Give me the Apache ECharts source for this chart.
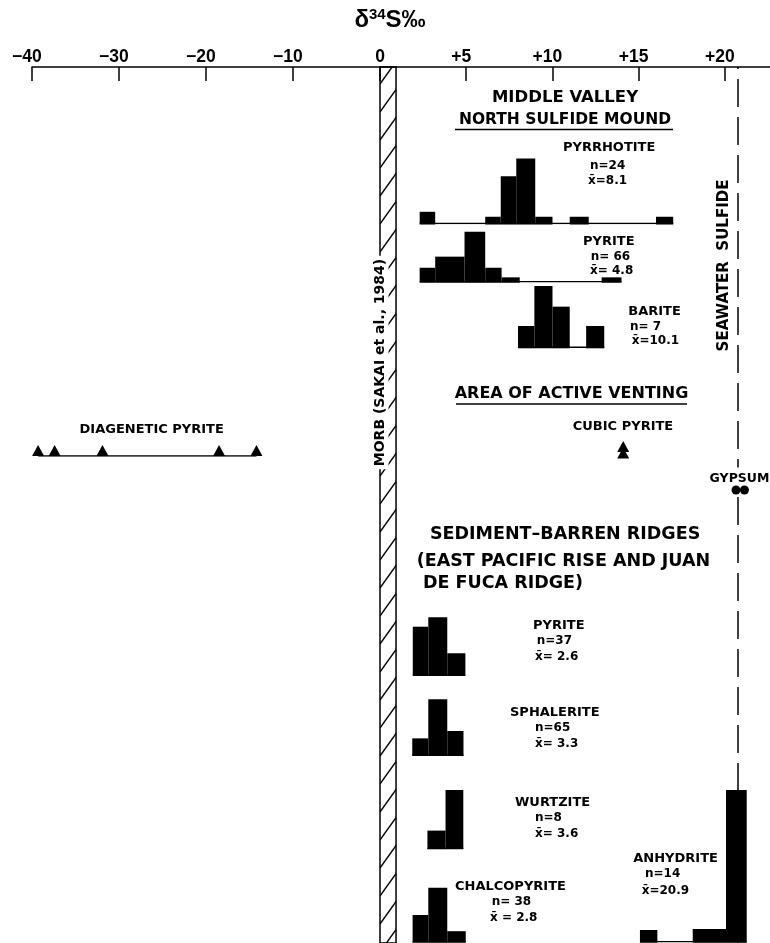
<!DOCTYPE html>
<html><head><meta charset="utf-8">
<script src="https://cdn.jsdelivr.net/npm/echarts@6/dist/echarts.min.js"></script>
<style>html,body{margin:0;padding:0;background:#fff}#c{width:770px;height:943px}</style>
</head><body><div id="c"></div>
<script>
// ================= DATA =================
const tickLabelsNeg = [-40, -30, -20, -10, 0];
const tickLabelsPos = [5, 10, 15, 20];
const ticksPos = [0, 5, 10, 15, 20];

const morbRange = [0, 0.93];          // MORB (Sakai et al., 1984)
const seawaterSulfide = 20.74;         // seawater sulfide value
const diageneticPyrite = [-39.3, -37.4, -31.9, -18.5, -14.2];
const cubicPyrite = [14.1, 14.1];
const gypsum = [20.64, 21.13];

// Histogram bins [from, to] (δ34S ‰) and relative frequencies
const mvPyrrhotiteBins = [[2.3,3.2],[6.1,7.0],[7.0,7.9],[7.9,9.0],[9.0,10.0],[11.0,12.1],[16.0,17.0]];
const mvPyrrhotiteFreq = [7.8, 4.5, 31.5, 43.3, 4.5, 4.5, 4.5];
const mvPyriteBins = [[2.3,3.2],[3.2,4.9],[4.9,6.1],[6.1,7.05],[7.05,8.1],[12.85,14.0]];
const mvPyriteFreq = [9.3, 16.7, 33.3, 9.3, 2.9, 2.9];
const mvBariteBins = [[8.0,8.95],[8.95,10.0],[10.0,11.0],[11.95,13.0]];
const mvBariteFreq = [14.2, 40.9, 27.1, 14.2];
const sbPyriteBins = [[1.9,2.8],[2.8,3.9],[3.9,4.95]];
const sbPyriteFreq = [32.2, 38.5, 14.5];
const sbSphaleriteBins = [[1.87,2.8],[2.8,3.9],[3.9,4.84]];
const sbSphaleriteFreq = [11.1, 37.1, 16.0];
const sbWurtziteBins = [[2.75,3.8],[3.8,4.83]];
const sbWurtziteFreq = [11.8, 38.9];
const sbChalcopyriteBins = [[1.89,2.8],[2.8,3.9],[3.9,4.97]];
const sbChalcopyriteFreq = [17.8, 36.0, 7.0];
const sbAnhydriteBins = [[15.07,16.08],[18.13,20.06],[20.06,21.26]];
const sbAnhydriteFreq = [7.8, 8.5, 101.1];

// ================= LAYOUT =================
const X_MAX = 22.61;
const PX_PER_UNIT = 1.5, Y_MAX = 110, HH = Y_MAX * PX_PER_UNIT;
const AXIS_Y = 67;
const histLayout = [
  {bins: mvPyrrhotiteBins, freq: mvPyrrhotiteFreq, base: 223.5},
  {bins: mvPyriteBins, freq: mvPyriteFreq, base: 281.7},
  {bins: mvBariteBins, freq: mvBariteFreq, base: 347.3},
  {bins: sbPyriteBins, freq: sbPyriteFreq, base: 675},
  {bins: sbSphaleriteBins, freq: sbSphaleriteFreq, base: 755},
  {bins: sbWurtziteBins, freq: sbWurtziteFreq, base: 848.3},
  {bins: sbChalcopyriteBins, freq: sbChalcopyriteFreq, base: 941.7},
  {bins: sbAnhydriteBins, freq: sbAnhydriteFreq, base: 941.7}
];

const SANS = '"DejaVu Sans"';
const texts = [
  ['MIDDLE VALLEY', 565, 97.5, 16.5, 'center'],
  ['NORTH SULFIDE MOUND', 565, 120, 15.5, 'center'],
  ['PYRRHOTITE', 563, 148, 13, 'left'],
  ['n=24', 590, 166, 12, 'left'],
  ['x\u0304=8.1', 588, 181, 12, 'left'],
  ['PYRITE', 583, 242, 13, 'left'],
  ['n= 66', 590.7, 257, 12, 'left'],
  ['x\u0304= 4.8', 590, 270.5, 12, 'left'],
  ['BARITE', 628.3, 311.7, 13, 'left'],
  ['n= 7', 630, 327, 12, 'left'],
  ['x\u0304=10.1', 631.7, 341, 12, 'left'],
  ['AREA OF ACTIVE VENTING', 571.5, 394, 16, 'center'],
  ['CUBIC PYRITE', 623, 427, 13, 'center'],
  ['DIAGENETIC PYRITE', 151.7, 430, 13, 'center'],
  ['SEDIMENT\u2013BARREN RIDGES', 430, 534, 17.5, 'left'],
  ['(EAST PACIFIC RISE AND JUAN', 416.7, 561.5, 17.5, 'left'],
  ['DE FUCA RIDGE)', 423, 583, 17.5, 'left'],
  ['PYRITE', 533, 625.7, 13, 'left'],
  ['n=37', 536.7, 641, 12, 'left'],
  ['x\u0304= 2.6', 535, 656.7, 12, 'left'],
  ['SPHALERITE', 510, 712.8, 13, 'left'],
  ['n=65', 535, 727.5, 12, 'left'],
  ['x\u0304= 3.3', 535, 744, 12, 'left'],
  ['WURTZITE', 515, 803, 13, 'left'],
  ['n=8', 535, 817.5, 12, 'left'],
  ['x\u0304= 3.6', 535, 834, 12, 'left'],
  ['ANHYDRITE', 633.3, 858.7, 13, 'left'],
  ['n=14', 645, 874, 12, 'left'],
  ['x\u0304=20.9', 641.7, 890.5, 12, 'left'],
  ['CHALCOPYRITE', 455, 887, 13, 'left'],
  ['n= 38', 491.7, 902, 12, 'left'],
  ['x\u0304 = 2.8', 490, 918, 12, 'left']
];

// hatch pattern for MORB band
const pat = document.createElement('canvas');
pat.width = 20; pat.height = 28;
const pg = pat.getContext('2d');
pg.strokeStyle = '#000'; pg.lineWidth = 1.4;
pg.beginPath(); pg.moveTo(-20, 56); pg.lineTo(40, -28); pg.stroke();

const chart = echarts.init(document.getElementById('c'), null, {renderer: 'canvas'});

const grids = [], xAxes = [], yAxes = [], series = [];
const hiddenX = (gi) => ({gridIndex: gi, type: 'value', min: 0, max: X_MAX, show: false});
const hiddenY = (gi, max) => ({gridIndex: gi, type: 'value', min: 0, max: max, show: false});

const labelFont = {fontFamily: '"Liberation Sans"', fontWeight: 'bold', fontSize: 17.5, color: '#000',
  rich: {h: {fontFamily: '"Liberation Sans"', fontWeight: 'bold', fontSize: 17.5, color: 'rgba(0,0,0,0)'}}};

// grid 0: left (negative) panel
grids.push({left: 32, top: AXIS_Y, width: 348, height: 456 - AXIS_Y});
xAxes.push({gridIndex: 0, type: 'value', position: 'top', min: -40, max: 0,
  axisLine: {show: true, onZero: false, lineStyle: {color: '#000', width: 1.5}},
  axisTick: {show: true, inside: true, length: 14, lineStyle: {color: '#000', width: 1.5}, customValues: tickLabelsNeg},
  axisLabel: Object.assign({show: true, margin: 1, customValues: tickLabelsNeg,
    formatter: v => v < 0 ? '\u2212' + (-v) + '{h|\u2212}' : String(v)}, labelFont),
  splitLine: {show: false}});
yAxes.push(hiddenY(0, 1));

// grid 1: right (positive) panel
grids.push({left: 380, top: AXIS_Y, width: 390, height: 943 - AXIS_Y});
xAxes.push({gridIndex: 1, type: 'value', position: 'top', min: 0, max: X_MAX,
  axisLine: {show: true, onZero: false, lineStyle: {color: '#000', width: 1.5}},
  axisTick: {show: true, inside: true, length: 14, lineStyle: {color: '#000', width: 1.5}, customValues: ticksPos},
  axisLabel: Object.assign({show: true, margin: 1, customValues: tickLabelsPos,
    formatter: v => '+' + v + '{h|+}'}, labelFont),
  splitLine: {show: false}});
yAxes.push(hiddenY(1, 1));

// diagenetic pyrite
series.push({type: 'line', xAxisIndex: 0, yAxisIndex: 0, silent: true, symbol: 'none',
  lineStyle: {color: '#000', width: 1.5},
  data: [[Math.min(...diageneticPyrite), 0], [Math.max(...diageneticPyrite), 0]]});
series.push({type: 'scatter', xAxisIndex: 0, yAxisIndex: 0, silent: true, symbol: 'triangle',
  symbolSize: [12, 11], symbolOffset: [0, -5.5], itemStyle: {color: '#000', opacity: 1},
  data: diageneticPyrite.map(v => [v, 0])});

// MORB band + seawater sulfide line
series.push({type: 'line', xAxisIndex: 1, yAxisIndex: 1, silent: true, data: [], z: 1,
  markArea: {silent: true, label: {show: false},
    itemStyle: {color: {image: pat, repeat: 'repeat'}, borderColor: '#000', borderWidth: 1.5},
    data: [[{xAxis: morbRange[0]}, {xAxis: morbRange[1]}]]},
  markLine: {silent: true, symbol: 'none', label: {show: false},
    lineStyle: {color: '#000', width: 1.5, type: [28, 10]},
    data: [{xAxis: seawaterSulfide}]}
});

// histograms
histLayout.forEach((h, i) => {
  const gi = grids.length;
  grids.push({left: 380, width: 390, top: h.base - HH, height: HH});
  xAxes.push(hiddenX(gi));
  yAxes.push(hiddenY(gi, Y_MAX));
  const data = h.bins.map((b, k) => [b[0], b[1], h.freq[k]]);
  series.push({type: 'line', xAxisIndex: gi, yAxisIndex: gi, silent: true, symbol: 'none', z: 4,
    lineStyle: {color: '#000', width: 1.5},
    data: [[h.bins[0][0], 0], [h.bins[h.bins.length - 1][1], 0]]});
  series.push({type: 'custom', xAxisIndex: gi, yAxisIndex: gi, silent: true, z: 5,
    encode: {x: [0, 1], y: 2},
    data: data,
    renderItem: (params, api) => {
      const p0 = api.coord([api.value(0), api.value(2)]);
      const p1 = api.coord([api.value(1), 0]);
      return {type: 'rect', shape: {x: p0[0], y: p0[1], width: p1[0] - p0[0], height: p1[1] - p0[1] + 1},
        style: {fill: '#000'}};
    }});
});

// cubic pyrite (stacked triangles)
{
  const gi = grids.length;
  grids.push({left: 380, width: 390, top: 446.5, height: 6.5});
  xAxes.push(hiddenX(gi)); yAxes.push(hiddenY(gi, 1));
  series.push({type: 'scatter', xAxisIndex: gi, yAxisIndex: gi, silent: true, symbol: 'triangle',
    symbolSize: [12, 11], itemStyle: {color: '#000', opacity: 1}, z: 5,
    data: cubicPyrite.map((v, k) => [v, k])});
}
// gypsum
{
  const gi = grids.length;
  grids.push({left: 380, width: 390, top: 488, height: 2});
  xAxes.push(hiddenX(gi)); yAxes.push(hiddenY(gi, 1));
  series.push({type: 'scatter', xAxisIndex: gi, yAxisIndex: gi, silent: true, symbol: 'circle',
    symbolSize: 9, itemStyle: {color: '#000', opacity: 1}, z: 20,
    data: gypsum.map(v => [v, 0])});
}

// text graphics
const graphic = texts.map(t => ({type: 'text', x: t[1], y: t[2], z: 10, silent: true,
  style: {text: t[0], fill: '#000', font: 'bold ' + t[3] + 'px ' + SANS, align: t[4], verticalAlign: 'middle'}}));
graphic.push({type: 'line', z: 10, shape: {x1: 455, y1: 129.5, x2: 673, y2: 129.5}, style: {stroke: '#000', lineWidth: 1.5}});
graphic.push({type: 'line', z: 10, shape: {x1: 456, y1: 404, x2: 687, y2: 404}, style: {stroke: '#000', lineWidth: 1.5}});
graphic.push({type: 'text', x: 739.5, y: 478.5, z: 15, silent: true,
  style: {text: 'GYPSUM', fill: '#000', font: 'bold 12.5px ' + SANS, align: 'center', verticalAlign: 'middle',
    backgroundColor: '#fff', padding: [3, 2, 6, 2]}});
graphic.push({type: 'text', x: 380, y: 362.5, rotation: Math.PI / 2, z: 15, silent: true,
  style: {text: 'MORB (SAKAI et al., 1984)', fill: '#000', font: 'bold 14px ' + SANS, align: 'center', verticalAlign: 'middle',
    backgroundColor: '#fff', padding: [2, 3, 1, 3]}});
graphic.push({type: 'text', x: 724.5, y: 265.5, rotation: Math.PI / 2, z: 15, silent: true,
  style: {text: 'SEAWATER  SULFIDE', fill: '#000', font: 'bold 15px ' + SANS, align: 'center', verticalAlign: 'middle'}});
graphic.push({type: 'text', x: 390, y: 20, z: 15, silent: true,
  style: {text: '{a|\u03b4}{b|34}{a|S\u2030}', align: 'center', verticalAlign: 'middle',
    rich: {a: {font: 'bold 24px "Liberation Sans"', fill: '#000', height: 28},
           b: {font: 'bold 15px "Liberation Sans"', fill: '#000', verticalAlign: 'top', height: 28, padding: [0, 0, 10, 0]}}}});

chart.setOption({
  animation: false,
  backgroundColor: '#fff',
  grid: grids, xAxis: xAxes, yAxis: yAxes, series: series, graphic: graphic
});
</script></body></html>
